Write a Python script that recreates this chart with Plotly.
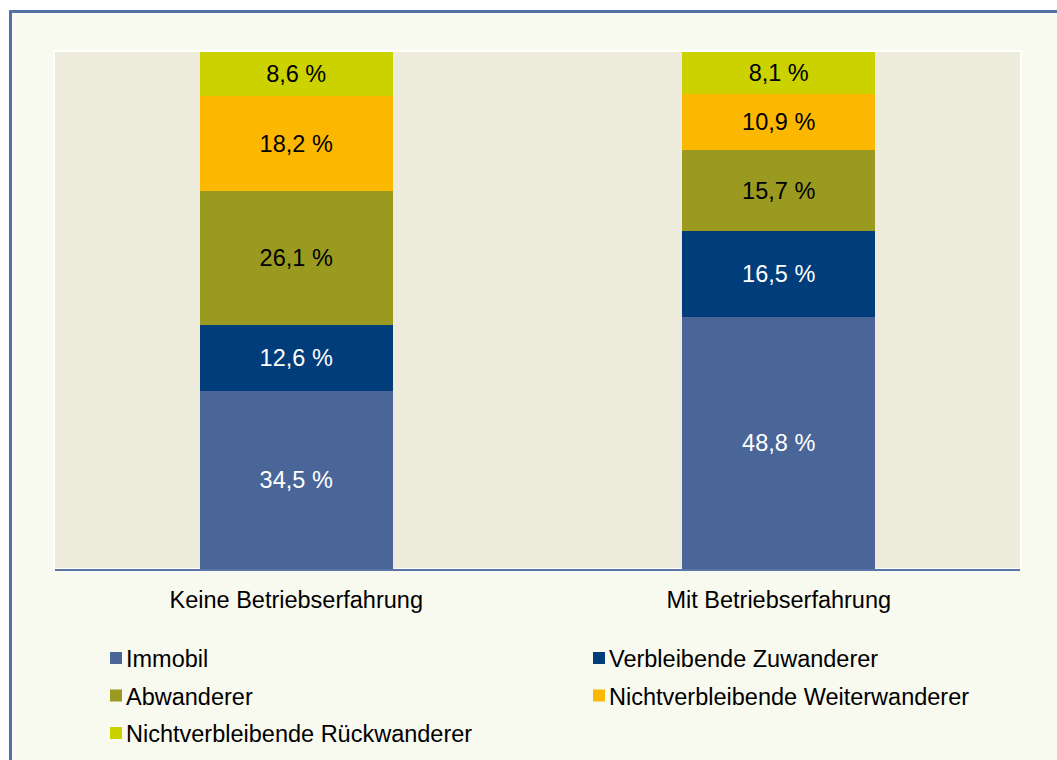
import plotly.graph_objects as go

categories = ["Keine Betriebserfahrung", "Mit Betriebserfahrung"]
series_names = [
    "Immobil",
    "Verbleibende Zuwanderer",
    "Abwanderer",
    "Nichtverbleibende Weiterwanderer",
    "Nichtverbleibende Rückwanderer",
]
immobil = [34.5, 48.8]
verbleibende_zuwanderer = [12.6, 16.5]
abwanderer = [26.1, 15.7]
weiterwanderer = [18.2, 10.9]
rueckwanderer = [8.6, 8.1]
series_values = [immobil, verbleibende_zuwanderer, abwanderer, weiterwanderer, rueckwanderer]
colors = ["#4A6699", "#003D7A", "#999A1F", "#FCB800", "#CCD100"]
label_colors = ["white", "white", "black", "black", "black"]

W, H = 1057, 760
ML, MR, MT, MB = 55, 37, 52, 191
PW, PH = W - ML - MR, H - MT - MB
FONT = "Liberation Sans, Arial, sans-serif"
FS = 23.5


def px_x(x):
    return (x - ML) / PW


def px_y(y):
    return (H - MB - y) / PH


fig = go.Figure()
for name, vals, col, lc in zip(series_names, series_values, colors, label_colors):
    fig.add_trace(go.Bar(
        x=categories, y=vals, name=name,
        marker=dict(color=col, line=dict(width=0)),
        text=[f"{v:.1f}".replace(".", ",") + " %" for v in vals],
        textposition="inside", insidetextanchor="middle",
        textfont=dict(family=FONT, size=FS, color=lc),
        constraintext="none",
        showlegend=False, hoverinfo="skip",
    ))

shapes = []
# white outside the frame (top and left)
shapes.append(dict(type="rect", xref="paper", yref="paper", layer="above",
                   x0=px_x(-5), x1=px_x(W + 5), y0=px_y(-5), y1=px_y(10),
                   fillcolor="white", line=dict(width=0)))
shapes.append(dict(type="rect", xref="paper", yref="paper", layer="above",
                   x0=px_x(-5), x1=px_x(9), y0=px_y(H + 5), y1=px_y(-5),
                   fillcolor="white", line=dict(width=0)))
# frame border lines
shapes.append(dict(type="line", xref="paper", yref="paper", layer="above",
                   x0=px_x(9), x1=px_x(W + 5), y0=px_y(11.5), y1=px_y(11.5),
                   line=dict(color="#5470A5", width=3)))
shapes.append(dict(type="line", xref="paper", yref="paper", layer="above",
                   x0=px_x(10.5), x1=px_x(10.5), y0=px_y(10), y1=px_y(H + 5),
                   line=dict(color="#5470A5", width=3)))
# white border around plot area
shapes.append(dict(type="rect", xref="paper", yref="paper", layer="below",
                   x0=px_x(ML - 1), x1=px_x(ML + PW + 1), y0=0, y1=px_y(MT - 1),
                   line=dict(color="white", width=2), fillcolor="rgba(0,0,0,0)"))

annotations = []
legend_sq_x = [110, 593]
legend_rows = [658, 695.5, 733]
for i, (name, col) in enumerate(zip(series_names, colors)):
    cx = legend_sq_x[i % 2]
    cy = legend_rows[i // 2]
    shapes.append(dict(type="rect", xref="paper", yref="paper", layer="above",
                       x0=px_x(cx), x1=px_x(cx + 12), y0=px_y(cy + 6), y1=px_y(cy - 6),
                       fillcolor=col, line=dict(width=0)))
    annotations.append(dict(xref="paper", yref="paper", x=px_x(cx + 14), y=px_y(cy + 1),
                            text=name, showarrow=False, xanchor="left", yanchor="middle",
                            font=dict(family=FONT, size=FS, color="black")))

fig.update_layout(
    width=W, height=H,
    margin=dict(l=ML, r=MR, t=MT, b=MB),
    barmode="stack", bargap=0.6,
    paper_bgcolor="#F8F9EF", plot_bgcolor="#ECEBDC",
    font=dict(family=FONT, size=FS, color="black"),
    xaxis=dict(showline=True, linecolor="#5A75A8", linewidth=2, ticks="",
               showgrid=False, ticklabelstandoff=9,
               tickfont=dict(family=FONT, size=FS, color="black")),
    yaxis=dict(range=[0, 100], visible=False, showgrid=False, zeroline=False),
    shapes=shapes, annotations=annotations,
    showlegend=False,
)

fig.write_html("out.html", config={"displayModeBar": False},
               post_script="document.body.style.margin='0';document.body.style.padding='0';")
